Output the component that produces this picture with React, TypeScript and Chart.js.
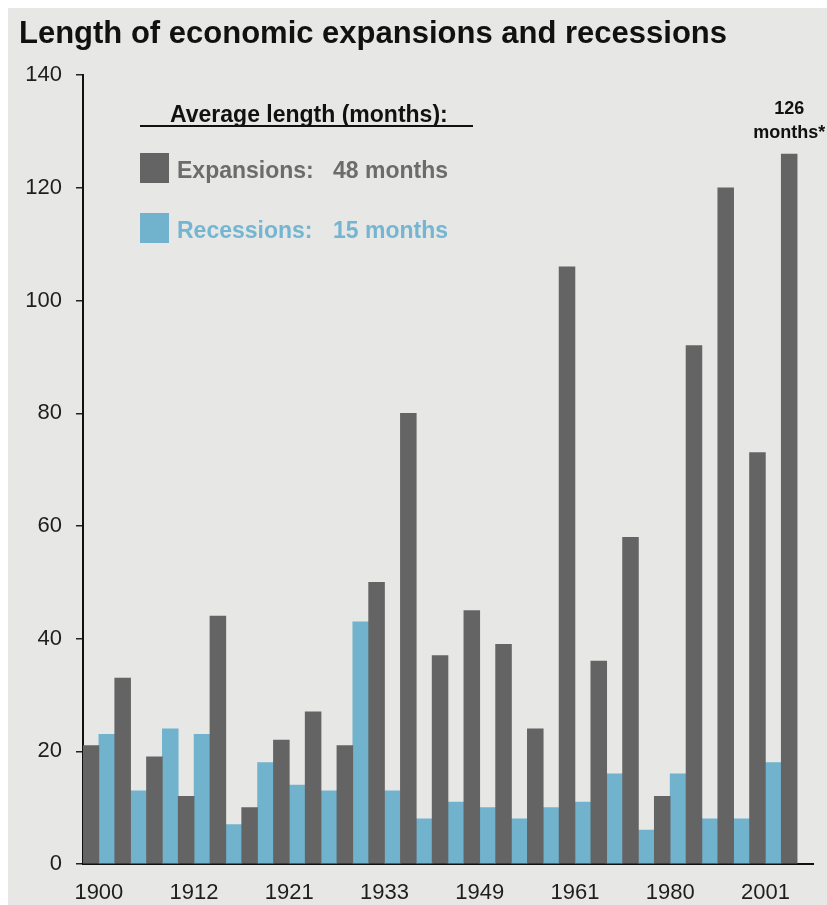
import React, { useEffect, useRef } from "react";
import { Chart, registerables } from "chart.js";

Chart.register(...registerables);

// ---- data ----
const TICK_LABELS = [
  "1900", "", "", "1912", "", "", "1921", "", "", "1933", "", "",
  "1949", "", "", "1961", "", "", "1980", "", "", "2001", "",
];
const EXPANSIONS = [21, 33, 19, 12, 44, 10, 22, 27, 21, 50, 80, 37, 45, 39, 24, 106, 36, 58, 12, 92, 120, 73, 126];
const RECESSIONS = [23, 13, 24, 23, 7, 18, 14, 13, 43, 13, 8, 11, 10, 8, 10, 11, 16, 6, 16, 8, 8, 18];
const SERIES_NAMES = ["Expansions:", "Recessions:"];
const AVERAGES = ["48 months", "15 months"];
const LEGEND_HEADER = "Average length (months):";
const TITLE = "Length of economic expansions and recessions";
const LAST_NOTE = "months*";
const Y_TICKS = [0, 20, 40, 60, 80, 100, 120, 140];

const GRAY = "#646464";
const BLUE = "#71b2cd";
const GRAY_TEXT = "#6c6c6c";
const BLUE_TEXT = "#74b6d2";
const BG = "#e7e7e6";
const FONT = "'Liberation Sans', Arial, sans-serif";

const W = 819;
const H = 897;

const overlayPlugin = {
  id: "overlay",
  afterDraw(chart: any) {
    const ctx = chart.ctx;
    ctx.save();
    ctx.textAlign = "left";
    ctx.textBaseline = "alphabetic";
    // legend header
    ctx.fillStyle = "#111";
    ctx.font = `bold 23px ${FONT}`;
    ctx.fillText(LEGEND_HEADER, 162, 114);
    ctx.strokeStyle = "#111";
    ctx.lineWidth = 2;
    ctx.beginPath();
    ctx.moveTo(132, 118);
    ctx.lineTo(465, 118);
    ctx.stroke();
    const colors = [GRAY, BLUE];
    const textColors = [GRAY_TEXT, BLUE_TEXT];
    for (let i = 0; i < SERIES_NAMES.length; i++) {
      const top = 145 + i * 60;
      ctx.fillStyle = colors[i];
      ctx.fillRect(132, top, 29, 30);
      ctx.fillStyle = textColors[i];
      ctx.fillText(SERIES_NAMES[i], 169, top + 25);
      ctx.fillText(AVERAGES[i], 325, top + 25);
    }
    // annotation above last expansion bar
    const meta = chart.getDatasetMeta(0);
    const el = meta.data[meta.data.length - 1];
    if (el) {
      ctx.fillStyle = "#111";
      ctx.font = `bold 18px ${FONT}`;
      ctx.textAlign = "center";
      ctx.fillText(String(EXPANSIONS[EXPANSIONS.length - 1]), el.x, el.y - 40);
      ctx.fillText(LAST_NOTE, el.x, el.y - 16);
    }
    ctx.restore();
  },
};

export default function App() {
  const ref = useRef<HTMLCanvasElement>(null);
  useEffect(() => {
    if (!ref.current) return;
    Chart.defaults.font.family = FONT;
    const chart = new Chart(ref.current, {
      type: "bar",
      data: {
        labels: TICK_LABELS,
        datasets: [
          { label: "Expansions", data: EXPANSIONS, backgroundColor: GRAY, borderWidth: 0, categoryPercentage: 1, barPercentage: 1 },
          { label: "Recessions", data: RECESSIONS, backgroundColor: BLUE, borderWidth: 0, categoryPercentage: 1, barPercentage: 1 },
        ],
      },
      options: {
        responsive: false,
        animation: false,
        devicePixelRatio: 1,
        layout: { padding: { top: 0, left: 11, right: 14, bottom: 0 } },
        plugins: {
          legend: { display: false },
          tooltip: { enabled: false },
          title: {
            display: true,
            text: TITLE,
            align: "start",
            color: "#111",
            font: { size: 31, weight: "bold", family: FONT, lineHeight: 1.2 },
            padding: { top: 8, bottom: 22 },
          },
        },
        scales: {
          x: {
            grid: { display: false, drawTicks: false },
            border: { display: true, color: "#111", width: 2 },
            ticks: {
              autoSkip: false,
              maxRotation: 0,
              minRotation: 0,
              padding: 16,
              color: "#1e1e1e",
              font: { size: 22, family: FONT },
            },
            afterFit: (s: any) => { s.height = 41; },
          },
          y: {
            min: 0,
            max: 140,
            afterBuildTicks: (s: any) => { s.ticks = Y_TICKS.map((v) => ({ value: v })); },
            grid: { display: true, drawOnChartArea: false, drawTicks: true, tickLength: 7, color: "#222", lineWidth: 1.5 },
            border: { display: true, color: "#111", width: 2 },
            ticks: { padding: 14, color: "#1e1e1e", font: { size: 22, family: FONT } },
            afterFit: (s: any) => { s.width = 64; },
          },
        },
      },
      plugins: [overlayPlugin],
    } as any);
    return () => chart.destroy();
  }, []);
  return (
    <div style={{ position: "fixed", left: 8, top: 8, width: W, height: H, background: BG }}>
      <canvas ref={ref} width={W} height={H} style={{ display: "block", width: W, height: H }} />
    </div>
  );
}
